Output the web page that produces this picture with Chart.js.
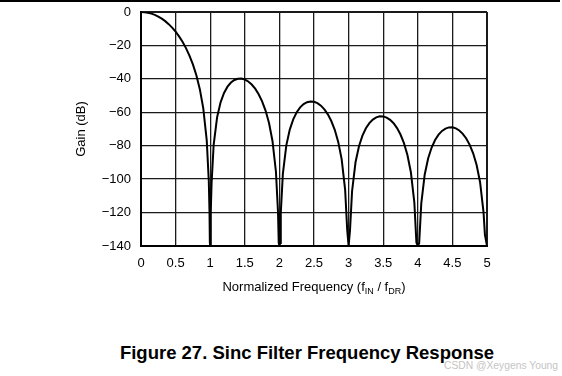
<!DOCTYPE html>
<html>
<head>
<meta charset="utf-8">
<script src="https://cdn.jsdelivr.net/npm/chart.js@4/dist/chart.umd.min.js"></script>
<style>
  html, body { margin: 0; padding: 0; background: #fff; }
  #wrap { position: relative; width: 562px; height: 376px; overflow: hidden; font-family: "Liberation Sans", Arial, sans-serif; }
  #topline { position: absolute; left: 0; top: 0; width: 560px; height: 2px; background: #000; }
  #chartBox { position: absolute; left: 0; top: 0; width: 562px; height: 300px; }
  #xtitle { position: absolute; left: 141px; width: 346px; top: 279px; text-align: center; font-size: 13px; line-height: 16px; color: #000; white-space: nowrap; }
  #xtitle sub { font-size: 9px; vertical-align: -3px; line-height: 0; }
  #caption { position: absolute; left: 0; width: 614px; top: 342px; text-align: center; font-size: 18.5px; font-weight: bold; line-height: 22px; color: #000; white-space: nowrap; }
  #wm { position: absolute; left: 444px; top: 359px; font-size: 10.3px; line-height: 13px; color: #c4c4c4; white-space: nowrap; }
</style>
</head>
<body>
<div id="wrap">
  <div id="topline"></div>
  <div id="chartBox"><canvas id="c" width="562" height="300"></canvas></div>
  <div id="xtitle">Normalized Frequency (f<sub>IN</sub> / f<sub>DR</sub>)</div>
  <div id="caption">Figure 27. Sinc Filter Frequency Response</div>
  <div id="wm">CSDN @Xeygens Young</div>
</div>
<script>
// Normalized frequency (f_IN / f_DR)
const freq = [0, 0.05, 0.1, 0.15, 0.2, 0.25, 0.3, 0.35, 0.4, 0.45, 0.5, 0.55, 0.6, 0.65, 0.7, 0.75, 0.8, 0.85, 0.9, 0.95,
  0.98, 0.99, 0.995, 1, 1.005, 1.01, 1.02,
  1.05, 1.1, 1.15, 1.2, 1.25, 1.3, 1.35, 1.4, 1.45, 1.5, 1.55, 1.6, 1.65, 1.7, 1.75, 1.8, 1.85, 1.9, 1.95,
  1.98, 1.99, 2, 2.01, 2.02,
  2.05, 2.1, 2.15, 2.2, 2.25, 2.3, 2.35, 2.4, 2.45, 2.5, 2.55, 2.6, 2.65, 2.7, 2.75, 2.8, 2.85, 2.9, 2.95,
  2.98, 3, 3.02,
  3.05, 3.1, 3.15, 3.2, 3.25, 3.3, 3.35, 3.4, 3.45, 3.5, 3.55, 3.6, 3.65, 3.7, 3.75, 3.8, 3.85, 3.9, 3.95,
  3.98, 4, 4.02,
  4.05, 4.1, 4.15, 4.2, 4.25, 4.3, 4.35, 4.4, 4.45, 4.5, 4.55, 4.6, 4.65, 4.7, 4.75, 4.8, 4.85, 4.9, 4.95,
  4.97, 5];

// Gain (dB)
const gain = [0, -0.11, -0.43, -0.97, -1.74, -2.74, -3.98, -5.48, -7.26, -9.35, -11.77, -14.57, -17.83, -21.61, -26.06, -31.36, -37.86, -46.17, -57.69, -76.83,
  -101.43, -119.74, -137.93, -140, -138.19, -120.26, -102.47,
  -79.44, -62.91, -54.05, -48.43, -44.67, -42.19, -40.66, -39.90, -39.83, -40.39, -41.57, -43.38, -45.89, -49.18, -53.44, -58.99, -66.44, -77.16, -95.57,
  -119.76, -137.94, -140, -138.20, -120.28,
  -96.87, -79.76, -70.35, -64.22, -59.99, -57.06, -55.10, -53.95, -53.50, -53.71, -54.54, -56.04, -58.23, -61.23, -65.22, -70.50, -77.70, -88.17, -106.36,
  -130.41, -140, -130.75,
  -107.23, -89.91, -80.30, -73.98, -69.57, -66.46, -64.34, -63.03, -62.42, -62.47, -63.17, -64.52, -66.57, -69.44, -73.30, -78.46, -85.53, -95.89, -113.97,
  -137.95, -140, -138.21,
  -114.62, -97.20, -87.49, -81.07, -76.56, -73.36, -71.15, -69.74, -69.05, -69.02, -69.63, -70.90, -72.88, -75.68, -79.46, -84.55, -91.55, -101.84, -119.84,
  -133.19, -140];

const xTicks = [0, 0.5, 1, 1.5, 2, 2.5, 3, 3.5, 4, 4.5, 5];
const yTicks = [0, -20, -40, -60, -80, -100, -120, -140];

const FONT = "'Liberation Sans', Arial, sans-serif";

const points = freq.map((f, i) => ({ x: f, y: gain[i] }));

new Chart(document.getElementById('c'), {
  type: 'line',
  data: {
    datasets: [{
      data: points,
      borderColor: '#000',
      borderWidth: 2,
      pointRadius: 0,
      tension: 0,
      fill: false
    }]
  },
  options: {
    responsive: false,
    animation: false,
    devicePixelRatio: 1,
    layout: { padding: { left: 0, top: 12, right: 75, bottom: 0 } },
    plugins: { legend: { display: false }, tooltip: { enabled: false }, title: { display: false } },
    scales: {
      x: {
        type: 'linear',
        min: xTicks[0],
        max: xTicks[xTicks.length - 1],
        afterBuildTicks: (s) => { s.ticks = xTicks.map(v => ({ value: v })); },
        afterFit: (s) => { s.height = 54; s.paddingLeft = 0; s.paddingRight = 0; },
        ticks: {
          color: '#000',
          padding: 10,
          maxRotation: 0,
          font: { family: FONT, size: 13 },
          callback: (v) => String(v)
        },
        grid: {
          color: '#1a1a1a',
          drawTicks: false,
          lineWidth: (ctx) => (ctx.tick && (ctx.tick.value === 0 || ctx.tick.value === 5)) ? 2 : 1.3
        },
        border: { display: true, color: '#000', width: 2 }
      },
      y: {
        min: -140,
        max: 0,
        afterBuildTicks: (s) => { s.ticks = yTicks.map(v => ({ value: v })); },
        afterFit: (s) => { s.width = 141; s.paddingTop = 0; s.paddingBottom = 0; },
        ticks: {
          color: '#000',
          padding: 10,
          font: { family: FONT, size: 13 },
          callback: (v) => (v < 0 ? '\u2212' + Math.abs(v) : String(v))
        },
        grid: {
          color: '#1a1a1a',
          drawTicks: false,
          lineWidth: (ctx) => (ctx.tick && (ctx.tick.value === 0 || ctx.tick.value === -140)) ? 2 : 1.3
        },
        border: { display: true, color: '#000', width: 2 },
        title: {
          display: true,
          text: 'Gain (dB)',
          color: '#000',
          font: { family: FONT, size: 13 },
          padding: { top: 74, bottom: 0 }
        }
      }
    }
  }
});
</script>
</body>
</html>
